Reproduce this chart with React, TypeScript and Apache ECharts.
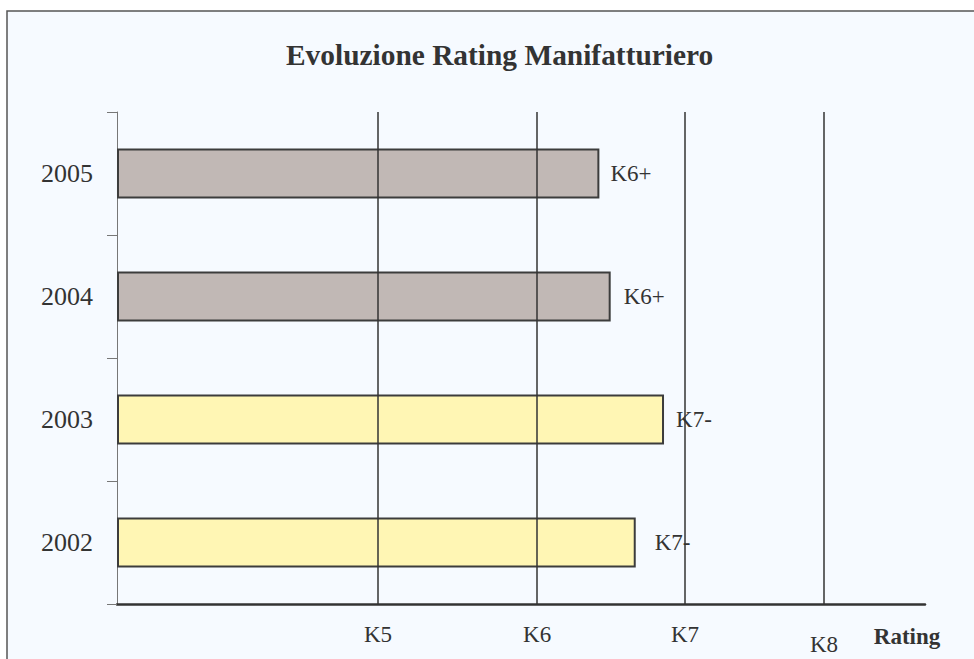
import React, { useEffect, useRef } from "react";
import * as echarts from "echarts";

const years = ["2002", "2003", "2004", "2005"];
const scores = [64.2, 67.7, 61.1, 59.7];
const ratingLabels = ["K7-", "K7-", "K6+", "K6+"];
const barColors = ["#fff6b4", "#fff6b4", "#c1b8b5", "#c1b8b5"];
const tickNames = ["K5", "K6", "K7", "K8"];
const tickValues = [32.3, 52.0, 70.3, 87.5];
const labelDistances = [19, 12, 13, 11];

const FONT = "'Liberation Serif', 'Times New Roman', serif";

export default function App() {
  const ref = useRef<HTMLDivElement>(null);
  useEffect(() => {
    if (!ref.current) return;
    const chart = echarts.init(ref.current, null, { renderer: "svg" });
    chart.setOption({
      animation: false,
      backgroundColor: "#ffffff",
      title: {
        text: "Evoluzione Rating Manifatturiero",
        left: 286,
        top: 40,
        padding: 0,
        textStyle: {
          fontFamily: FONT,
          fontWeight: "bold",
          fontSize: 29.4,
          color: "#333333",
        },
      },
      graphic: [
        {
          type: "rect",
          z: -10,
          shape: { x: 7, y: 11, width: 1000, height: 700 },
          style: { fill: "#f6faff", stroke: "#555555", lineWidth: 1.5 },
        },
        {
          type: "text",
          x: 907,
          y: 636,
          style: {
            text: "Rating",
            fontFamily: FONT,
            fontWeight: "bold",
            fontSize: 23,
            fill: "#333333",
            textAlign: "center",
            textVerticalAlign: "middle",
          },
        },
      ],
      grid: {
        left: 117,
        right: 49,
        top: 112,
        bottom: 55,
        containLabel: false,
        outerBoundsMode: "none",
      },
      xAxis: {
        type: "value",
        min: 0,
        max: 100,
        axisLine: { show: true, lineStyle: { color: "#333333", width: 2.5 } },
        axisTick: { show: false },
        splitLine: { show: false },
        axisLabel: {
          show: true,
          customValues: tickValues,
          margin: 19,
          fontFamily: FONT,
          fontSize: 23,
          color: "#333333",
          formatter: (v: number) => {
            const i = tickValues.indexOf(v);
            const name = i >= 0 ? tickNames[i] : "";
            return name === "K8" ? "{low|" + name + "}" : name;
          },
          rich: {
            low: {
              fontFamily: FONT,
              fontSize: 23,
              color: "#333333",
              padding: [10, 0, 0, 0],
            },
          },
        },
      },
      yAxis: {
        type: "category",
        data: years,
        axisLine: { show: true, lineStyle: { color: "#777777", width: 1 } },
        axisTick: { show: true, length: 10, lineStyle: { color: "#777777", width: 1 } },
        axisLabel: {
          margin: 24,
          fontFamily: FONT,
          fontSize: 26,
          color: "#333333",
        },
        splitLine: { show: false },
      },
      series: [
        {
          type: "bar",
          barWidth: 50,
          data: scores.map((v, i) => ({
            value: v,
            itemStyle: { color: barColors[i] },
            label: { distance: labelDistances[i] },
          })),
          itemStyle: { borderColor: "#3c3c3c", borderWidth: 2 },
          label: {
            show: true,
            position: "right",
            fontFamily: FONT,
            fontSize: 23,
            color: "#333333",
            formatter: (p: any) => ratingLabels[p.dataIndex],
          },
          markLine: {
            silent: true,
            symbol: "none",
            label: { show: false },
            lineStyle: { color: "#333333", width: 1.5, type: "solid" },
            data: tickValues.map((v) => ({ xAxis: v })),
          },
        },
      ],
    });
    return () => chart.dispose();
  }, []);
  return (
    <div
      ref={ref}
      style={{ position: "absolute", left: 0, top: 0, width: 974, height: 659 }}
    />
  );
}
